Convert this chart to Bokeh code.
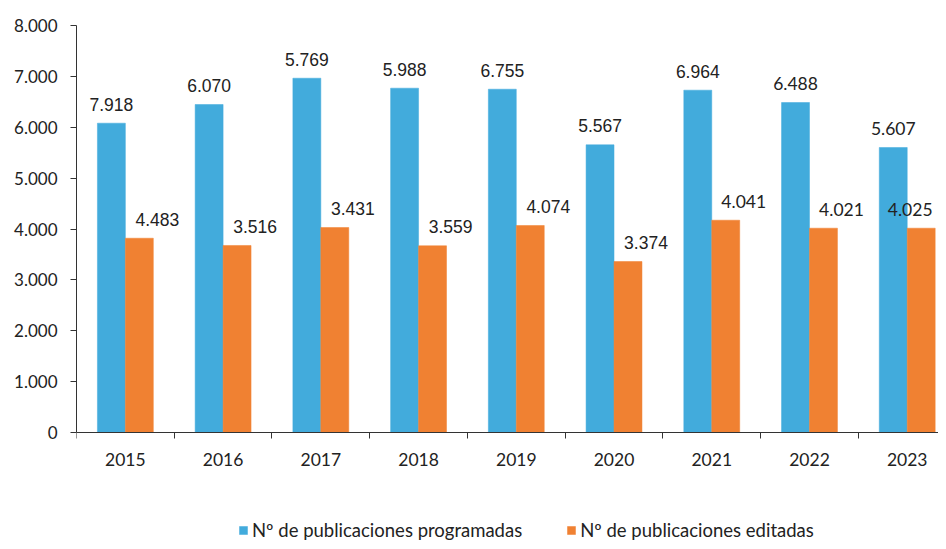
import numpy as np
from bokeh.plotting import figure
from bokeh.models import (ColumnDataSource, Range1d, FixedTicker, Legend, LegendItem)
from bokeh.transform import dodge
from bokeh.embed import file_html
from bokeh.resources import INLINE

# ---- data ----
years = ["2015", "2016", "2017", "2018", "2019", "2020", "2021", "2022", "2023"]
programadas = [6080, 6447, 6964, 6768, 6748, 5655, 6729, 6486, 5602]
editadas = [3819, 3676, 4029, 3670, 4069, 3361, 4173, 4016, 4016]
programadas_labels = ["7.918", "6.070", "5.769", "5.988", "6.755", "5.567", "6.964", "6.488", "5.607"]
editadas_labels = ["4.483", "3.516", "3.431", "3.559", "4.074", "3.374", "4.041", "4.021", "4.025"]
y_ticks = [0, 1000, 2000, 3000, 4000, 5000, 6000, 7000, 8000]
y_tick_labels = ["0", "1.000", "2.000", "3.000", "4.000", "5.000", "6.000", "7.000", "8.000"]
series_names = ["Nº de publicaciones programadas", "Nº de publicaciones editadas"]

BLUE = "#42ABDC"
ORANGE = "#F08132"
AXIS = "#333333"
TXT = "#222222"

n = len(years)
idx = list(range(n))
font_p = ["Liberation Sans"] * 7 + ["Lato"] * 2
font_e = ["Liberation Sans"] * 6 + ["Lato"] * 3
off_e = [18] * (n - 1) + [-11]

src = ColumnDataSource(dict(x=idx, p=programadas, e=editadas,
                            pl=programadas_labels, el=editadas_labels,
                            fp=font_p, fe=font_e, oe=off_e))

W, H = 938, 541
FRAME_TOP, ZERO_Y = 25, 432          # pixel rows of 8.000 and 0
px_per_unit = (ZERO_Y - FRAME_TOP) / 8000.0
y_bottom = -(H - ZERO_Y) / px_per_unit

p = figure(width=W, height=H, output_backend="svg", toolbar_location=None,
           x_range=Range1d(-0.5, 8.32), y_range=Range1d(y_bottom, 8000),
           min_border_left=76, min_border_right=0, min_border_top=FRAME_TOP,
           min_border_bottom=0)
p.outline_line_color = None
p.xgrid.visible = False
p.ygrid.visible = False
p.background_fill_color = "white"
p.border_fill_color = "white"

bw = 0.286
rb = p.vbar(x=dodge("x", -0.143, range=p.x_range), top="p", width=bw, source=src,
            fill_color=BLUE, line_color=BLUE, line_width=0.5)
ro = p.vbar(x=dodge("x", 0.143, range=p.x_range), top="e", width=bw, source=src,
            fill_color=ORANGE, line_color=ORANGE, line_width=0.5)

p.text(x=dodge("x", -0.143, range=p.x_range), y="p", text="pl", source=src,
       text_font="fp", text_font_size="17.5px", text_color=TXT,
       text_align="center", text_baseline="middle", y_offset=-19)
p.text(x=dodge("x", 0.143, range=p.x_range), y="e", text="el", source=src,
       text_font="fe", text_font_size="17.5px", text_color=TXT,
       text_align="center", text_baseline="middle", y_offset=-19, x_offset="oe")

# y axis
ya = p.yaxis[0]
ya.ticker = FixedTicker(ticks=y_ticks)
ya.bounds = (0, 8000)
ya.major_label_overrides = {t: l for t, l in zip(y_ticks, y_tick_labels)}
ya.axis_line_color = AXIS
ya.major_tick_line_color = AXIS
ya.major_tick_out = 6
ya.major_tick_in = 0
ya.minor_tick_line_color = None
ya.major_label_text_font = "Lato"
ya.major_label_text_font_size = "17px"
ya.major_label_text_color = TXT
ya.major_label_standoff = 13

# x axis, drawn at y = 0 inside the frame
xa = p.xaxis[0]
xa.fixed_location = 0
xa.ticker = FixedTicker(ticks=idx, minor_ticks=[i - 0.5 for i in range(n + 1)])
xa.major_label_overrides = {i: y for i, y in zip(idx, years)}
xa.axis_line_color = AXIS
xa.major_tick_line_color = None
xa.minor_tick_line_color = AXIS
xa.minor_tick_out = 6
xa.minor_tick_in = 0
xa.major_label_text_font = "Lato"
xa.major_label_text_font_size = "17.5px"
xa.major_label_text_color = TXT
xa.major_label_standoff = 14

legend = Legend(items=[LegendItem(label=series_names[0], renderers=[rb]),
                       LegendItem(label=series_names[1], renderers=[ro])],
                location=(162, 0), orientation="horizontal",
                label_text_font="Lato", label_text_font_size="18.5px",
                label_text_color=TXT, glyph_width=10, glyph_height=10,
                label_standoff=4, spacing=44, padding=0, margin=0,
                border_line_color=None, background_fill_alpha=0,
                label_height=18)
p.add_layout(legend, "center")

open("out.html", "w").write(file_html(p, INLINE))
